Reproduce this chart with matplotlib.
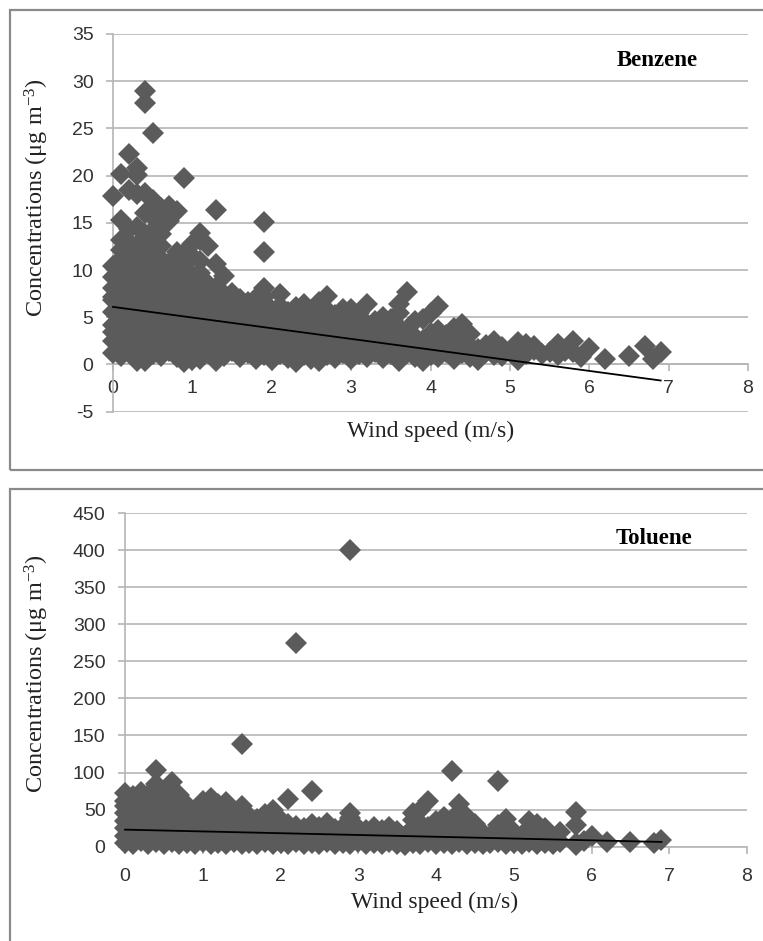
import matplotlib
matplotlib.use("Agg")
import matplotlib.pyplot as plt
from matplotlib.patches import Rectangle
import numpy as np

W, H = 763, 941

# wind speed columns (m/s) and the concentrations read at each column
benzene_speed = [0.0, 0.1, 0.2, 0.3, 0.4, 0.5, 0.6, 0.7, 0.8, 0.9,
                 1.0, 1.1, 1.2, 1.3, 1.4, 1.5, 1.6, 1.7, 1.8, 1.9,
                 2.0, 2.1, 2.2, 2.3, 2.4, 2.5, 2.6, 2.7, 2.8, 2.9,
                 3.0, 3.1, 3.2, 3.3, 3.4, 3.5, 3.6, 3.7, 3.8, 3.9,
                 4.0, 4.1, 4.2, 4.3, 4.4, 4.5, 4.6, 4.7, 4.8, 4.9,
                 5.0, 5.1, 5.2, 5.3, 5.4, 5.5, 5.6, 5.7, 5.8, 5.9,
                 6.0, 6.2, 6.5, 6.7, 6.8, 6.9]
benzene_conc = [
    [4.2, 17.8, 1.2, 2.5, 3.4, 5.6, 6.8, 8.1, 9.3, 10.4, 7.2],
    [20.2, 15.3, 13.2, 0.9, 2.0, 3.1, 4.6, 5.9, 7.4, 8.6, 9.9, 11.2, 12.1],
    [22.3, 18.5, 14.4, 1.5, 2.7, 3.9, 5.0, 6.3, 7.7, 9.0, 10.3, 11.6, 13.0],
    [20.8, 20.1, 18.1, 14.6, 1.0, 2.2, 3.5, 4.8, 6.1, 7.5, 8.8, 10.1, 11.4, 12.7, 0.4],
    [29.0, 27.7, 18.2, 16.0, 0.4, 1.6, 2.9, 4.2, 5.5, 6.8, 8.2, 9.6, 11.0, 12.4, 13.8],
    [24.5, 17.4, 15.6, 1.1, 2.4, 3.7, 5.0, 6.3, 7.6, 8.9, 10.2, 11.5, 12.8, 14.2],
    [16.6, 15.0, 0.9, 2.1, 3.4, 4.7, 6.0, 7.3, 8.6, 9.9, 11.2, 12.6, 13.8],
    [16.8, 15.2, 1.4, 2.7, 4.0, 5.3, 6.6, 8.0, 9.4, 10.8],
    [16.3, 10.2, 0.8, 2.1, 3.4, 4.7, 6.0, 7.3, 8.6, 11.9],
    [19.8, 11.8, 10.5, 0.3, 1.5, 2.8, 4.1, 5.4, 6.7, 8.0, 9.3],
    [12.8, 9.5, 0.5, 1.8, 3.1, 4.4, 5.7, 7.0, 8.3, 11.5],
    [13.9, 13.2, 11.0, 0.6, 1.9, 3.2, 4.5, 5.8, 7.1, 8.4, 9.7],
    [12.6, 8.5, 1.2, 2.5, 3.8, 5.1, 6.4, 7.5],
    [16.4, 10.6, 0.4, 1.7, 3.0, 4.3, 5.6, 6.9, 8.2],
    [9.4, 0.9, 2.2, 3.5, 4.8, 6.1, 7.5],
    [7.6, 1.4, 2.7, 4.0, 5.3, 6.5],
    [6.9, 0.8, 2.0, 3.3, 4.6, 5.8],
    [6.6, 1.2, 2.5, 3.8, 5.2],
    [7.0, 0.6, 1.9, 3.1, 4.4, 5.7],
    [15.1, 11.9, 8.1, 7.2, 1.0, 2.3, 3.6, 4.9, 6.0],
    [5.8, 0.5, 1.7, 3.0, 4.4],
    [7.5, 1.1, 2.4, 3.7, 5.0, 6.2],
    [5.6, 0.7, 2.0, 3.3, 4.5],
    [6.1, 0.3, 1.5, 2.8, 4.0, 5.0],
    [6.4, 1.0, 2.3, 3.6, 4.9],
    [5.4, 0.6, 1.8, 3.1, 4.3],
    [6.6, 0.4, 1.4, 2.6, 3.8, 5.0],
    [7.3, 1.0, 2.2, 3.4, 4.6, 5.8],
    [5.2, 0.7, 1.8, 3.0, 4.1],
    [5.9, 1.2, 2.4, 3.6, 4.8],
    [5.9, 0.6, 1.8, 3.0, 4.2],
    [5.4, 1.1, 2.3, 3.5, 4.5],
    [6.4, 0.8, 1.9, 3.1, 4.3],
    [4.6, 1.3, 2.5, 3.6],
    [5.0, 0.7, 1.8, 3.0, 4.1],
    [4.8, 1.1, 2.3, 3.5],
    [6.4, 5.4, 0.4, 1.6, 2.8, 4.0],
    [7.7, 1.2, 2.4, 3.5],
    [4.6, 0.8, 1.9, 2.9],
    [4.8, 0.4, 1.5, 2.6],
    [5.5, 1.0, 2.1, 3.3],
    [6.2, 0.8, 1.9, 3.6],
    [3.1, 1.3, 2.2],
    [3.9, 0.6, 1.8, 2.9],
    [4.3, 1.2, 2.5, 3.4],
    [3.2, 0.8, 2.0],
    [1.6, 0.5],
    [1.3, 2.1],
    [2.5, 1.0],
    [1.8, 0.9],
    [1.4],
    [2.4, 0.5, 1.5],
    [2.2, 1.1],
    [1.5, 2.0],
    [1.1],
    [1.3],
    [2.2, 1.0],
    [1.4],
    [2.5, 1.3],
    [0.8],
    [1.7],
    [0.6],
    [0.85],
    [2.0],
    [0.6],
    [1.3],
]
benzene_fit = (6.1, -1.13)      # intercept, slope of the linear trend
benzene_fit_x = (0.0, 6.9)

toluene_speed = [0.0, 0.1, 0.2, 0.3, 0.4, 0.5, 0.6, 0.7, 0.8, 0.9,
                 1.0, 1.1, 1.2, 1.3, 1.4, 1.5, 1.6, 1.7, 1.8, 1.9,
                 2.0, 2.1, 2.2, 2.3, 2.4, 2.5, 2.6, 2.7, 2.8, 2.9,
                 3.0, 3.1, 3.2, 3.3, 3.4, 3.5, 3.6, 3.7, 3.8, 3.9,
                 4.0, 4.1, 4.2, 4.3, 4.4, 4.5, 4.6, 4.7, 4.8, 4.9,
                 5.0, 5.1, 5.2, 5.3, 5.4, 5.5, 5.6, 5.8, 5.9, 6.0,
                 6.2, 6.5, 6.8, 6.9]
toluene_conc = [
    [72, 25, 5, 15, 35, 45, 55, 62],
    [60, 4, 12, 22, 32, 42, 50, 68],
    [74, 8, 18, 28, 38, 48, 58, 66],
    [70, 3, 13, 23, 33, 43, 53, 62],
    [104, 85, 6, 17, 27, 37, 47, 57, 67],
    [75, 3, 12, 22, 32, 42, 52, 62],
    [87, 76, 6, 16, 26, 36, 46, 56, 66],
    [70, 3, 13, 23, 33, 43, 53, 61],
    [56, 5, 15, 25, 35, 45],
    [50, 3, 12, 22, 32, 42],
    [62, 6, 16, 26, 36, 46, 54],
    [65, 3, 13, 23, 33, 43, 53],
    [58, 5, 15, 25, 35, 45],
    [60, 3, 12, 22, 32, 42, 50],
    [48, 6, 16, 26, 36],
    [139, 55, 3, 13, 23, 33, 43],
    [42, 5, 15, 25, 35],
    [38, 3, 12, 22, 30],
    [44, 6, 16, 26, 35],
    [50, 3, 13, 23, 33, 42],
    [36, 5, 15, 25],
    [64, 3, 12, 22, 30],
    [275, 28, 6, 16],
    [25, 3, 13],
    [75, 30, 5, 15, 22],
    [27, 3, 12, 20],
    [32, 6, 16, 24],
    [24, 3, 13],
    [27, 5, 15],
    [400, 45, 39, 3, 12, 22],
    [25, 6, 16],
    [22, 3, 13],
    [26, 5, 15],
    [23, 3, 12],
    [27, 6, 16],
    [21, 3, 12],
    [15, 2, 8],
    [36, 45, 5, 15, 25],
    [50, 3, 12, 22, 32],
    [61, 6, 16, 26],
    [35, 3, 13, 22],
    [40, 5, 15, 28],
    [102, 32, 3, 12, 22],
    [58, 47, 6, 16, 26, 36],
    [40, 3, 13, 28],
    [30, 5, 15],
    [18, 3, 10],
    [14, 5],
    [88, 29, 6, 16],
    [38, 3, 12, 24],
    [20, 5, 12],
    [15, 3, 8],
    [34, 6, 16, 25],
    [31, 3, 12, 20],
    [25, 5, 14],
    [12, 3],
    [20, 6],
    [47, 29, 5, 2],
    [8],
    [14],
    [7],
    [7],
    [5.5],
    [9],
]
toluene_fit = (23.0, -2.4)
toluene_fit_x = (0.0, 6.9)

x_ticks = [0, 1, 2, 3, 4, 5, 6, 7, 8]
benzene_yticks = [-5, 0, 5, 10, 15, 20, 25, 30, 35]
toluene_yticks = [0, 50, 100, 150, 200, 250, 300, 350, 400, 450]

plt.rcParams['mathtext.fontset'] = 'custom'
plt.rcParams['mathtext.rm'] = 'Liberation Serif'
plt.rcParams['mathtext.it'] = 'Liberation Serif:italic'
plt.rcParams['axes.unicode_minus'] = False

TICK_FONT = ['Liberation Sans Narrow', 'Liberation Sans', 'DejaVu Sans']
SERIF = ['Liberation Serif', 'DejaVu Serif']
MARK = '#5b5b5b'
GRID = '#b5b5b5'
BOX = '#8a8a8a'

fig = plt.figure(figsize=(W / 100, H / 100), dpi=100)


def px_rect(left, top, right, bottom):
    return [left / W, 1 - bottom / H, (right - left) / W, (bottom - top) / H]


def panel(rect, speed, conc, fit, fit_x, yticks, xpad, name, name_xy, ylab_xy, xlab_xy):
    ax = fig.add_axes(rect)
    xs = np.repeat(speed, [len(c) for c in conc])
    ys = np.concatenate([np.array(c, float) for c in conc])

    ax.set_xlim(0, 8)
    ax.set_ylim(yticks[0], yticks[-1])
    ax.set_xticks(x_ticks)
    ax.set_yticks(yticks)
    ax.yaxis.grid(True, color=GRID, lw=1.2)
    ax.set_axisbelow(True)

    for s in ['top', 'right']:
        ax.spines[s].set_visible(False)
    ax.spines['bottom'].set_position(('data', 0))
    ax.spines['bottom'].set_color(GRID)
    ax.spines['left'].set_color(GRID)
    ax.spines['bottom'].set_linewidth(1.2)
    ax.spines['left'].set_linewidth(1.2)

    ax.tick_params(axis='x', direction='out', length=5, width=1.2, color=GRID, pad=xpad)
    ax.tick_params(axis='y', direction='out', length=5, width=1.2, color=GRID, pad=9)
    for lab in ax.get_xticklabels() + ax.get_yticklabels():
        lab.set_family(TICK_FONT)
        lab.set_fontsize(14)
        lab.set_color('#333333')

    ax.plot(xs, ys, 'D', ms=11, mew=0, color=MARK, clip_on=False, zorder=3)
    fx = np.array(fit_x)
    ax.plot(fx, fit[0] + fit[1] * fx, color='black', lw=1.3, zorder=4, clip_on=False)

    fig.text(name_xy[0] / W, 1 - name_xy[1] / H, name, family=SERIF, fontsize=16.5,
             weight='bold', ha='center', va='center')
    fig.text(ylab_xy[0] / W, 1 - ylab_xy[1] / H, r'Concentrations ($\mathrm{\mu}$g m$^{-3}$)',
             family=SERIF, fontsize=17.5, rotation=90, ha='center', va='center', color='#222222')
    fig.text(xlab_xy[0] / W, 1 - xlab_xy[1] / H, 'Wind speed (m/s)',
             family=SERIF, fontsize=17, ha='center', va='center', color='#222222')
    return ax


# frames around each panel
fig.patches.append(Rectangle((10 / W, 1 - 470 / H), 1.0, (470 - 10) / H, transform=fig.transFigure,
                             fill=False, ec=BOX, lw=1.6))
fig.patches.append(Rectangle((10 / W, -0.05), 1.0, 1.05 - 489 / H, transform=fig.transFigure,
                             fill=False, ec=BOX, lw=1.6))

panel(px_rect(113, 34, 748, 411.7), benzene_speed, benzene_conc, benzene_fit, benzene_fit_x,
      benzene_yticks, 6, 'Benzene', (657, 61), (37, 198), (431, 431))
panel(px_rect(125, 513, 747, 846.7), toluene_speed, toluene_conc, toluene_fit, toluene_fit_x,
      toluene_yticks, 10, 'Toluene', (654, 538), (37, 674), (435, 902))

fig.savefig('out.png', dpi=100)
